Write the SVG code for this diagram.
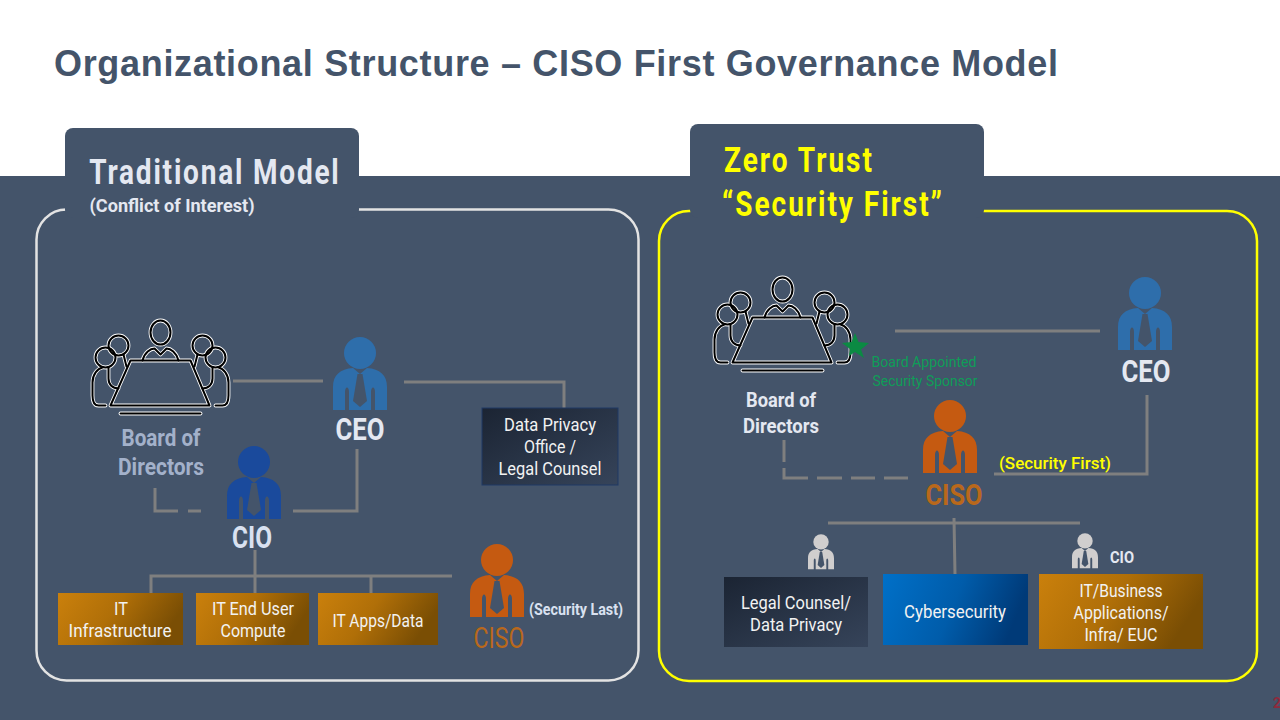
<svg xmlns="http://www.w3.org/2000/svg" xmlns:xlink="http://www.w3.org/1999/xlink" width="1280" height="720" viewBox="0 0 1280 720">
<style>
text{font-family:"Roboto","Liberation Sans",sans-serif;text-anchor:middle}
.c{fill:none;stroke:#7F7F7F;stroke-width:3}
.lb{font-weight:700;fill:#E4E8F1}
.bx{fill:#F2F2F2;font-size:18px}
.i1{fill:none;stroke:#fff;stroke-width:3.8;stroke-linecap:round;stroke-linejoin:round}
.i2{fill:none;stroke:#000;stroke-width:2;stroke-linecap:round;stroke-linejoin:round}
</style>
<defs>
<linearGradient id="gold" x1="0" y1="0" x2="1" y2="0.3"><stop offset="0" stop-color="#CA800C"/><stop offset="0.5" stop-color="#B06F08"/><stop offset="1" stop-color="#7A4E04"/></linearGradient>
<linearGradient id="dark" x1="0" y1="0" x2="1" y2="1"><stop offset="0" stop-color="#1B2433"/><stop offset="1" stop-color="#36445A"/></linearGradient>
<linearGradient id="blue" x1="0" y1="0" x2="1" y2="0.2"><stop offset="0" stop-color="#0070C8"/><stop offset="0.55" stop-color="#005CAA"/><stop offset="1" stop-color="#003A78"/></linearGradient>
<symbol id="person" viewBox="0 0 54 74" overflow="visible">
<circle cx="27" cy="16" r="16" fill="currentColor"/>
<path fill="currentColor" d="M0 73V50C0 38 7 32 20 31L27 37L34 31C47 32 54 38 54 50V73H42V55C42 49 38 49 38 55V73H16V55C16 49 12 49 12 55V73Z"/>
<path fill="#44546A" d="M24.5 37H29.5L34 64L27 70L20 64Z"/>
</symbol>
<g id="tbl">
<ellipse cx="68" cy="12" rx="10" ry="12"/>
<circle cx="26" cy="25" r="10"/><circle cx="13" cy="37" r="10"/>
<circle cx="110" cy="25" r="10"/><circle cx="123" cy="37" r="10"/>
<path d="M50 40C52 32 58 28 62 28L68 34L74 28C78 28 84 32 86 40"/>
<path d="M38 40H98L117 85H18Z"/>
<path d="M28 93H108"/>
<path d="M13 85H6C1 85 0 80 0 75V62C0 54 5 48 10 47"/>
<path d="M123 85H130C135 85 136 80 136 75V62C136 54 131 48 126 47"/>
<path d="M16 47V58C16 64 20 68 26 68"/>
<path d="M120 47V58C120 64 116 68 110 68"/>
<path d="M31 34L34 46"/><path d="M105 34L102 46"/>
</g>
<g id="board"><use xlink:href="#tbl" class="i1"/><use xlink:href="#tbl" class="i2"/></g>
</defs>

<rect width="1280" height="720" fill="#fff"/>
<rect y="176" width="1280" height="544" fill="#44546A"/>
<text x="556" y="76" style="font-family:'Liberation Sans',sans-serif;font-weight:700;font-size:36px" fill="#44546A" textLength="1004" lengthAdjust="spacing">Organizational Structure – CISO First Governance Model</text>

<g id="panel-left">
<rect x="36.500" y="209.500" width="602" height="471" rx="30" fill="none" stroke="#E3E3E3" stroke-width="2.500"/>
<rect x="65" y="128" width="294" height="90" rx="8" fill="#44546A"/>
<text transform="translate(214,184) scale(.8,1)" font-size="35" font-weight="700" fill="#E4E8F1" textLength="312" lengthAdjust="spacing">Traditional Model</text>
<text x="172" y="212" font-size="19" font-weight="700" fill="#E4E8F1" textLength="165" lengthAdjust="spacingAndGlyphs">(Conflict of Interest)</text>
</g>
<g id="panel-right">
<rect x="659" y="211" width="598" height="470" rx="30" fill="none" stroke="#FFFF00" stroke-width="2.500"/>
<rect x="690" y="124" width="294" height="94" rx="8" fill="#44546A"/>
<text transform="translate(798,172) scale(.8,1)" font-size="35" font-weight="700" fill="#FFFF00" textLength="185" lengthAdjust="spacing">Zero Trust</text>
<text transform="translate(832,216) scale(.8,1)" font-size="35" font-weight="700" fill="#FFFF00" textLength="275" lengthAdjust="spacing">“Security First”</text>
</g>

<g id="connectors">
<path class="c" d="M233 381H323"/>
<path class="c" d="M404 382H564V408"/>
<path class="c" d="M357 449V511H293"/>
<path class="c" d="M155 488V511H178M188 511H201"/>
<path class="c" d="M255 550V593M151 593V576H452M371 576V593"/>
<path class="c" d="M895 331H1100"/>
<path class="c" d="M994 474H1147V395"/>
<path class="c" d="M784 440V462"/>
<path class="c" d="M784 468V478H808M817 478H842M851 478H875M884 478H908"/>
<path class="c" d="M828 523H1080M954 518L955 575"/>
</g>

<g id="board-left"><use xlink:href="#board" transform="translate(92.500,320.500)"/>
<text x="161" y="446" font-size="23" font-weight="700" fill="#A3B1CA" textLength="79" lengthAdjust="spacingAndGlyphs">Board of</text>
<text x="161" y="475" font-size="23" font-weight="700" fill="#A3B1CA" textLength="86" lengthAdjust="spacingAndGlyphs">Directors</text></g>
<g id="ceo-left"><use xlink:href="#person" x="333" y="337" width="54" height="74" color="#2E6EAB"/>
<text x="360" y="440" font-size="31" class="lb" textLength="49" lengthAdjust="spacingAndGlyphs">CEO</text></g>
<g id="cio-left"><use xlink:href="#person" x="227" y="446" width="54" height="74" color="#1A4A9C"/>
<text x="252" y="548" font-size="31" class="lb" textLength="40" lengthAdjust="spacingAndGlyphs" style="fill:#D9E1F0">CIO</text></g>
<g id="privacy-left"><rect x="482" y="408" width="136" height="77" fill="url(#dark)" stroke="#1F3864"/>
<text x="550" y="431" class="bx" textLength="92" lengthAdjust="spacingAndGlyphs">Data Privacy</text>
<text x="550" y="453" class="bx" textLength="52" lengthAdjust="spacingAndGlyphs">Office /</text>
<text x="550" y="475" class="bx" textLength="103" lengthAdjust="spacingAndGlyphs">Legal Counsel</text></g>
<g id="infra"><rect x="58" y="593" width="125" height="52" fill="url(#gold)"/>
<text x="121" y="615" class="bx" textLength="14" lengthAdjust="spacingAndGlyphs">IT</text>
<text x="120" y="637" class="bx" textLength="103" lengthAdjust="spacingAndGlyphs">Infrastructure</text></g>
<g id="enduser"><rect x="196" y="593" width="113" height="52" fill="url(#gold)"/>
<text x="253" y="615" class="bx" textLength="82" lengthAdjust="spacingAndGlyphs">IT End User</text>
<text x="253" y="637" class="bx" textLength="65" lengthAdjust="spacingAndGlyphs">Compute</text></g>
<g id="apps"><rect x="318" y="593" width="120" height="52" fill="url(#gold)"/>
<text x="378" y="627" class="bx" textLength="91" lengthAdjust="spacingAndGlyphs">IT Apps/Data</text></g>
<g id="ciso-left"><use xlink:href="#person" x="470" y="544" width="54" height="74" color="#C55A11"/>
<text x="499" y="648" font-size="29" fill="#B9681B" textLength="51" lengthAdjust="spacingAndGlyphs">CISO</text>
<text x="576" y="615" font-size="16" font-weight="700" fill="#D9E1F0" textLength="94" lengthAdjust="spacingAndGlyphs">(Security Last)</text></g>

<g id="board-right"><use xlink:href="#board" transform="translate(714.500,277.500)"/>
<text x="781" y="407" font-size="21" class="lb" textLength="70" lengthAdjust="spacingAndGlyphs">Board of</text>
<text x="781" y="433" font-size="21" class="lb" textLength="76" lengthAdjust="spacingAndGlyphs">Directors</text></g>
<g id="sponsor"><polygon points="855,333 858.500,342 869,343 861,349.500 864,358 855,352 849,356 850,349 842,343 851.500,342" fill="#0B8A43"/>
<text x="924" y="367" font-size="15" fill="#0F9D58" textLength="105" lengthAdjust="spacingAndGlyphs">Board Appointed</text>
<text x="925" y="386" font-size="15" fill="#0F9D58" textLength="105" lengthAdjust="spacingAndGlyphs">Security Sponsor</text></g>
<g id="ceo-right"><use xlink:href="#person" x="1118" y="277" width="54" height="74" color="#2E6EAB"/>
<text x="1146" y="382" font-size="31" class="lb" textLength="49" lengthAdjust="spacingAndGlyphs">CEO</text></g>
<g id="ciso-right"><use xlink:href="#person" x="923" y="400" width="54" height="74" color="#C55A11"/>
<text x="954" y="505" font-size="30" font-weight="700" fill="#B9681B" textLength="57" lengthAdjust="spacingAndGlyphs">CISO</text>
<text x="1055" y="469" font-size="17" font-weight="500" fill="#FFFF00" textLength="112" lengthAdjust="spacingAndGlyphs">(Security First)</text></g>
<g id="legal"><use xlink:href="#person" x="808" y="534" width="26" height="36" color="#D0CECE"/>
<rect x="724" y="577" width="144" height="70" fill="url(#dark)"/>
<text x="796" y="609" class="bx" textLength="110" lengthAdjust="spacingAndGlyphs">Legal Counsel/</text>
<text x="796" y="631" class="bx" textLength="92" lengthAdjust="spacingAndGlyphs">Data Privacy</text></g>
<g id="cyber"><rect x="883" y="574" width="145" height="71" fill="url(#blue)"/>
<text x="955" y="618" class="bx" textLength="102" lengthAdjust="spacingAndGlyphs">Cybersecurity</text></g>
<g id="cio-right"><use xlink:href="#person" x="1072" y="533" width="26" height="36" color="#D0CECE"/>
<text x="1122" y="563" font-size="16" font-weight="700" fill="#E4E8F1" textLength="24" lengthAdjust="spacingAndGlyphs">CIO</text>
<rect x="1039" y="574" width="164" height="75" fill="url(#gold)"/>
<text x="1121" y="597" class="bx" textLength="83" lengthAdjust="spacingAndGlyphs">IT/Business</text>
<text x="1121" y="619" class="bx" textLength="95" lengthAdjust="spacingAndGlyphs">Applications/</text>
<text x="1121" y="641" class="bx" textLength="73" lengthAdjust="spacingAndGlyphs">Infra/ EUC</text></g>
<text x="1277" y="708" font-size="14" font-weight="700" fill="#8E2A3C">2</text>
</svg>
